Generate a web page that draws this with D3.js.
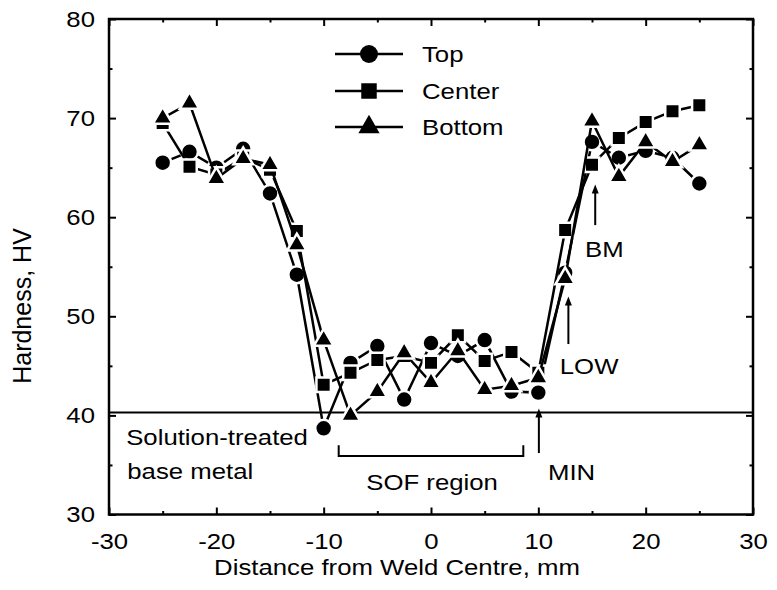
<!DOCTYPE html>
<html>
<head>
<meta charset="utf-8">
<script src="https://cdn.jsdelivr.net/npm/d3@7"></script>
<style>
  body { margin: 0; background: #fff; }
  text { font-family: "Liberation Sans", Arial, Helvetica, sans-serif; fill: #000; }
</style>
</head>
<body>
<script>
// distance from weld centre, mm
var distance = [-25, -22.5, -20, -17.5, -15, -12.5, -10, -7.5, -5, -2.5, 0,
                2.5, 5, 7.5, 10, 12.5, 15, 17.5, 20, 22.5, 25];

// hardness HV
var hvTop    = [65.5, 66.6, 65.0, 66.9, 62.4, 54.2, 38.7, 45.3, 47.0, 41.6, 47.3,
                46.0, 47.6, 42.4, 42.3, 54.4, 67.6, 66.0, 66.7, 66.0, 63.4];
var hvCenter = [69.5, 65.1, 64.3, 66.0, 64.8, 58.6, 43.1, 44.3, 45.6, 46.0, 45.3,
                48.1, 45.5, 46.4, 44.3, 58.7, 65.3, 68.0, 69.6, 70.7, 71.3];
var hvBottom = [70.0, 71.5, 63.9, 65.9, 65.3, 57.2, 47.6, 40.0, 42.4, 46.3, 43.3,
                46.5, 42.6, 43.0, 43.8, 53.8, 69.7, 64.1, 67.6, 65.6, 67.3];

var seriesNames = ["Top", "Center", "Bottom"];
var xTicks = [-30, -20, -10, 0, 10, 20, 30];
var xMinor = [-25, -15, -5, 5, 15, 25];
var yTicks = [30, 40, 50, 60, 70, 80];
var yMinor = [35, 45, 55, 65, 75];
var baseMetalHV = 40.3;

var width = 777, height = 590;
var left = 109, right = 753, topY = 19, bottomY = 514.5;
var fontsize = 23, xstretch = 1.12;

var svg = d3.select("body").append("svg")
  .attr("width", width).attr("height", height);

var x = d3.scaleLinear().domain([-30, 30]).range([left, right]);
var y = d3.scaleLinear().domain([30, 80]).range([bottomY, topY]);

// widen text a little, like the original scan
function widen(sel) {
  sel.each(function () {
    var t = d3.select(this), tx = +t.attr("x") || 0;
    t.attr("transform", "translate(" + tx + ",0) scale(" + xstretch + ",1) translate(" + (-tx) + ",0)");
  });
}

function label(txt, px, py, anchor) {
  var t = svg.append("text")
    .attr("x", px).attr("y", py)
    .attr("text-anchor", anchor || "start")
    .style("font-size", fontsize + "px")
    .text(txt);
  widen(t);
  return t;
}

// plain hyphen for negatives, as in the original
var plain = function (d) { return String(d); };

//axes: major + minor ticks on all four sides, pointing inward
function styleAxis(g) {
  g.select(".domain").remove();
  g.selectAll("line").attr("stroke", "#000").attr("stroke-width", 2);
  g.selectAll("text").style("font-size", fontsize + "px").attr("fill", "#000");
}

svg.append("g").attr("transform", "translate(0," + bottomY + ")")
  .call(d3.axisBottom(x).tickValues(xTicks).tickSize(-7).tickPadding(18).tickFormat(plain))
  .call(styleAxis)
  .call(function (g) { g.attr("font-family", null); widen(g.selectAll("text")); });
svg.append("g").attr("transform", "translate(0," + bottomY + ")")
  .call(d3.axisBottom(x).tickValues(xMinor).tickSize(-3.5).tickFormat(""))
  .call(styleAxis);
svg.append("g").attr("transform", "translate(0," + topY + ")")
  .call(d3.axisTop(x).tickValues(xTicks).tickSize(-7).tickFormat(""))
  .call(styleAxis);
svg.append("g").attr("transform", "translate(0," + topY + ")")
  .call(d3.axisTop(x).tickValues(xMinor).tickSize(-3.5).tickFormat(""))
  .call(styleAxis);

svg.append("g").attr("transform", "translate(" + left + ",0)")
  .call(d3.axisLeft(y).tickValues(yTicks).tickSize(-7).tickPadding(14).tickFormat(plain))
  .call(styleAxis)
  .call(function (g) { g.attr("font-family", null); widen(g.selectAll("text")); });
svg.append("g").attr("transform", "translate(" + left + ",0)")
  .call(d3.axisLeft(y).tickValues(yMinor).tickSize(-3.5).tickFormat(""))
  .call(styleAxis);
svg.append("g").attr("transform", "translate(" + right + ",0)")
  .call(d3.axisRight(y).tickValues(yTicks).tickSize(-7).tickFormat(""))
  .call(styleAxis);
svg.append("g").attr("transform", "translate(" + right + ",0)")
  .call(d3.axisRight(y).tickValues(yMinor).tickSize(-3.5).tickFormat(""))
  .call(styleAxis);

// frame
svg.append("rect")
  .attr("x", left).attr("y", topY)
  .attr("width", right - left).attr("height", bottomY - topY)
  .attr("fill", "none").attr("stroke", "#000").attr("stroke-width", 2.5);

// axis titles
label("Distance from Weld Centre, mm", 397, 575, "middle");
svg.append("text")
  .attr("transform", "translate(31,306) rotate(-90)")
  .attr("text-anchor", "middle")
  .style("font-size", "25px")
  .text("Hardness, HV");

// solution-treated base metal level
svg.append("line")
  .attr("x1", left).attr("x2", right)
  .attr("y1", y(baseMetalHV)).attr("y2", y(baseMetalHV))
  .attr("stroke", "#000").attr("stroke-width", 2);

// series
var symbols = [d3.symbolCircle, d3.symbolSquare, d3.symbolTriangle];
var sizes = [225, 210, 165];
var allSeries = [hvTop, hvCenter, hvBottom];

var line = d3.line()
  .x(function (d) { return x(d[0]); })
  .y(function (d) { return y(d[1]); });

allSeries.forEach(function (vals, i) {
  var pts = distance.map(function (d, j) { return [d, vals[j]]; });
  svg.append("path")
    .datum(pts)
    .attr("d", line)
    .attr("fill", "none")
    .attr("stroke", "#000")
    .attr("stroke-width", 2.5);
  svg.append("g").selectAll("path")
    .data(pts).enter().append("path")
    .attr("transform", function (d) { return "translate(" + x(d[0]) + "," + y(d[1]) + ")"; })
    .attr("d", d3.symbol().type(symbols[i]).size(sizes[i]))
    .attr("fill", "#000")
    .attr("stroke", "#fff")
    .attr("stroke-width", 2.5);
});

// legend
var legendY = [54, 91, 127];
seriesNames.forEach(function (name, i) {
  svg.append("line")
    .attr("x1", 335).attr("x2", 403)
    .attr("y1", legendY[i]).attr("y2", legendY[i])
    .attr("stroke", "#000").attr("stroke-width", 2.5);
  svg.append("path")
    .attr("transform", "translate(369," + legendY[i] + ")")
    .attr("d", d3.symbol().type(symbols[i]).size(sizes[i] + 30))
    .attr("fill", "#000");
  label(name, 422, legendY[i] + 8.5);
});

// annotations
function arrow(xv, y0, y1) {
  var px = x(xv), pBottom = y(y0), pTip = y(y1);
  svg.append("line")
    .attr("x1", px).attr("x2", px)
    .attr("y1", pBottom).attr("y2", pTip + 6)
    .attr("stroke", "#000").attr("stroke-width", 2);
  svg.append("path")
    .attr("d", "M" + px + "," + pTip + "L" + (px - 3.5) + "," + (pTip + 9) + "L" + (px + 3.5) + "," + (pTip + 9) + "Z")
    .attr("fill", "#000");
}
arrow(10.05, 36.2, 40.7);
arrow(12.8, 47.2, 52.0);
arrow(15.3, 59.2, 63.3);

label("MIN", x(10.9), y(33.5));
label("LOW", x(12.0), y(44.2));
label("BM", x(14.35), y(56.0));
label("Solution-treated", x(-28.4), y(37.0));
label("base metal", x(-28.3), y(33.6));
label("SOF region", x(0.1), y(32.5), "middle");

// SOF bracket
svg.append("path")
  .attr("d", "M" + x(-8.6) + "," + y(37.0) + "V" + y(35.9) + "H" + x(8.6) + "V" + y(37.0))
  .attr("fill", "none").attr("stroke", "#000").attr("stroke-width", 2);
</script>
</body>
</html>
